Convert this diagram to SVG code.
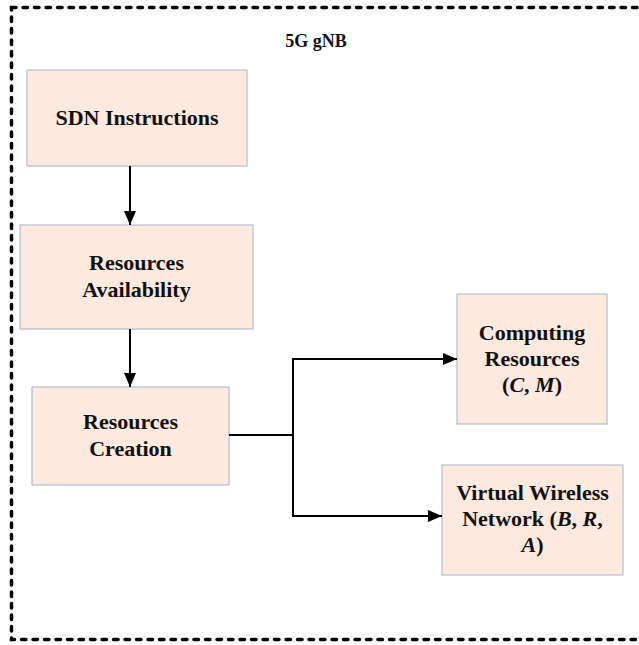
<svg xmlns="http://www.w3.org/2000/svg" width="639" height="645" viewBox="0 0 639 645">
  <defs>
    <marker id="arr" viewBox="0 0 14 12" refX="14" refY="6" markerWidth="14" markerHeight="12" markerUnits="userSpaceOnUse" orient="auto">
      <path d="M0,0 L14,6 L0,12 Z" fill="#000"/>
    </marker>
    <style>
      .box { fill: #fde9dd; stroke: #b3bfd2; stroke-width: 1.2; }
      .lbl { font-family: "Liberation Serif", "Times New Roman", serif; font-weight: bold; font-size: 22px; fill: #111; text-anchor: middle; }
      .title { font-family: "Liberation Serif", "Times New Roman", serif; font-weight: bold; font-size: 18px; fill: #111; text-anchor: middle; }
      .conn { fill: none; stroke: #000; stroke-width: 2; }
      .frame { fill: none; stroke: #000; stroke-width: 3.5; stroke-dasharray: 4.5 7; stroke-linecap: round; }
    </style>
  </defs>

  <rect width="639" height="645" fill="#fff"/>

  <g id="frame">
    <rect class="frame" x="11.5" y="7.5" width="640" height="632"/>
    <text class="title" x="316" y="47">5G gNB</text>
  </g>

  <g id="sdn">
    <rect class="box" x="27" y="70" width="220" height="96"/>
    <text class="lbl" x="137" y="125">SDN Instructions</text>
  </g>

  <g id="availability">
    <rect class="box" x="20" y="225" width="233" height="104"/>
    <text class="lbl" x="136.5" y="270">Resources</text>
    <text class="lbl" x="136.5" y="297">Availability</text>
  </g>

  <g id="creation">
    <rect class="box" x="32" y="387" width="197" height="98"/>
    <text class="lbl" x="130.5" y="429">Resources</text>
    <text class="lbl" x="130.5" y="456">Creation</text>
  </g>

  <g id="computing">
    <rect class="box" x="457" y="294" width="150" height="130"/>
    <text class="lbl" x="532" y="340">Computing</text>
    <text class="lbl" x="532" y="366">Resources</text>
    <text class="lbl" x="532" y="392">(<tspan font-style="italic">C</tspan>, <tspan font-style="italic">M</tspan>)</text>
  </g>

  <g id="vwn">
    <rect class="box" x="442" y="465" width="181" height="110"/>
    <text class="lbl" x="532.5" y="500">Virtual Wireless</text>
    <text class="lbl" x="532.5" y="526">Network (<tspan font-style="italic">B</tspan>, <tspan font-style="italic">R</tspan>,</text>
    <text class="lbl" x="532.5" y="552"><tspan font-style="italic">A</tspan>)</text>
  </g>

  <g id="connectors">
    <line class="conn" x1="130" y1="166" x2="130" y2="225" marker-end="url(#arr)"/>
    <line class="conn" x1="130" y1="329" x2="130" y2="387" marker-end="url(#arr)"/>
    <polyline class="conn" points="229,435 293,435"/>
    <polyline class="conn" points="293,516 293,359 457,359" marker-end="url(#arr)"/>
    <polyline class="conn" points="293,435 293,516 442,516" marker-end="url(#arr)"/>
  </g>
</svg>
